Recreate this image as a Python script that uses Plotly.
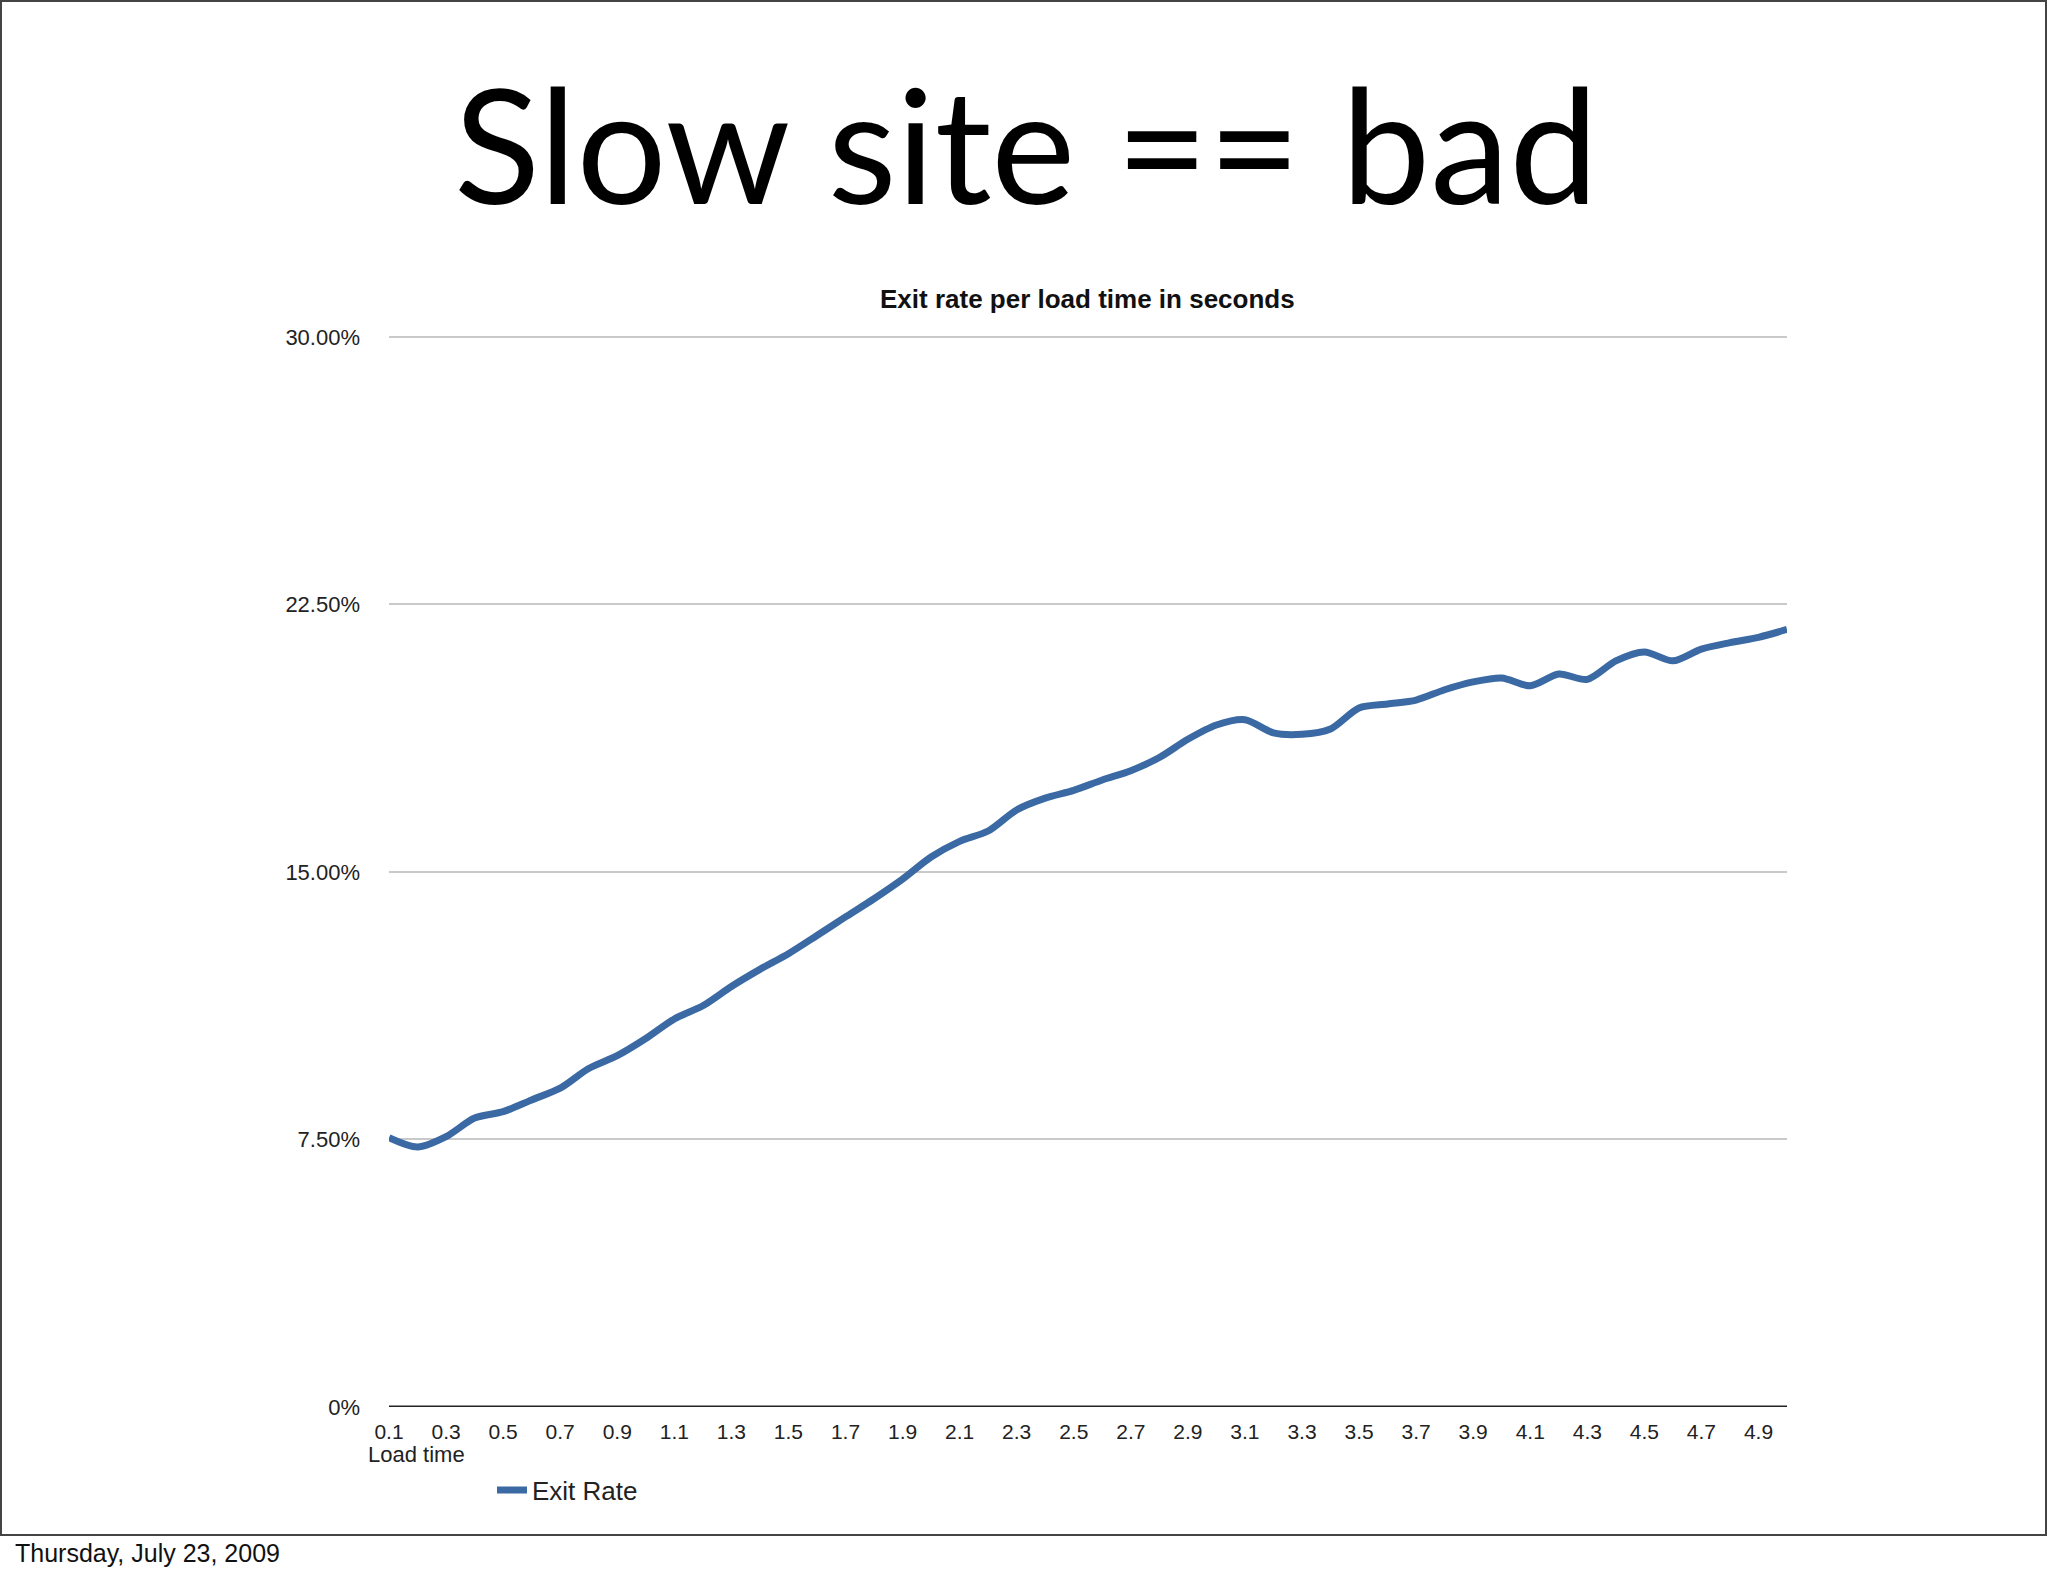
import plotly.graph_objects as go

load_times = [round(0.1 * i, 1) for i in range(1, 51)]
exit_rate = [7.55, 7.29, 7.58, 8.10, 8.28, 8.61, 8.94, 9.49, 9.85, 10.33,
             10.88, 11.25, 11.79, 12.27, 12.71, 13.22, 13.74, 14.25, 14.80, 15.42,
             15.86, 16.15, 16.74, 17.07, 17.29, 17.58, 17.84, 18.21, 18.72, 19.12,
             19.27, 18.90, 18.86, 19.01, 19.60, 19.71, 19.82, 20.11, 20.33, 20.44,
             20.22, 20.55, 20.40, 20.92, 21.17, 20.92, 21.25, 21.43, 21.58, 21.80]
x_tick_vals = [round(0.1 + 0.2 * i, 1) for i in range(25)]
x_tick_text = ["%.1f" % v for v in x_tick_vals]
y_tick_vals = [0, 7.5, 15, 22.5, 30]
y_tick_text = ["0%", "7.50%", "15.00%", "22.50%", "30.00%"]

W, H = 2048, 1576

def px(x):
    return x / W

def py(y):
    return (H - y) / H

Y_TOP = 30.2
y_zero_px, y_30_px = 1407, 337
y_top_px = y_zero_px - (y_zero_px - y_30_px) * Y_TOP / 30

fig = go.Figure()
fig.add_trace(go.Scatter(
    x=load_times, y=exit_rate, mode="lines", name="Exit Rate",
    line=dict(color="#3a69a3", width=7, shape="spline", smoothing=0.8),
))

fig.update_layout(
    width=W, height=H,
    margin=dict(l=0, r=0, t=0, b=0, pad=0, autoexpand=False),
    paper_bgcolor="white",
    plot_bgcolor="rgba(0,0,0,0)",
    showlegend=True,
    legend=dict(
        x=px(492), y=py(1490), xanchor="left", yanchor="middle",
        orientation="h", bgcolor="rgba(0,0,0,0)",
        font=dict(family="Liberation Sans, Arial", size=26, color="#222"),
        itemwidth=30,
    ),
    xaxis=dict(
        domain=[px(389), px(1787)],
        range=[0.1, 5.0],
        automargin=False,
        tickmode="array", tickvals=x_tick_vals, ticktext=x_tick_text,
        showgrid=False, zeroline=False, showline=False, ticks="",
        ticklabelstandoff=10,
        tickfont=dict(family="Liberation Sans, Arial", size=21, color="#222"),
    ),
    yaxis=dict(
        domain=[py(y_zero_px), py(y_top_px)],
        range=[0, Y_TOP],
        automargin=False,
        tickmode="array", tickvals=y_tick_vals, ticktext=y_tick_text,
        showgrid=True, gridcolor="#c9c9c9", gridwidth=2,
        zeroline=False, showline=False, ticks="",
        ticklabelstandoff=28,
        tickfont=dict(family="Liberation Sans, Arial", size=22, color="#222"),
    ),
    shapes=[
        dict(type="rect", xref="paper", yref="paper",
             x0=px(1), x1=px(2046), y0=py(1535), y1=py(1),
             line=dict(color="#444", width=2), fillcolor="rgba(0,0,0,0)", layer="below"),
        dict(type="line", xref="x", yref="y", x0=0.1, x1=5.0, y0=0, y1=0,
             line=dict(color="#222", width=3)),
    ],
    annotations=[
        dict(text="Slow site == bad", xref="paper", yref="paper",
             x=px(1026), y=py(142), xanchor="center", yanchor="middle",
             showarrow=False, font=dict(family="Lato, Open Sans", size=159, color="black")),
        dict(text="<b>Exit rate per load time in seconds</b>", xref="paper", yref="paper",
             x=px(1087), y=py(299), xanchor="center", yanchor="middle",
             showarrow=False, font=dict(family="Liberation Sans, Arial", size=26, color="#111")),
        dict(text="Load time", xref="paper", yref="paper",
             x=px(366), y=py(1454), xanchor="left", yanchor="middle",
             showarrow=False, font=dict(family="Liberation Sans, Arial", size=22, color="#222")),
        dict(text="Thursday, July 23, 2009", xref="paper", yref="paper",
             x=px(13), y=py(1553), xanchor="left", yanchor="middle",
             showarrow=False, font=dict(family="Liberation Sans, Arial", size=25, color="#111")),
    ],
)

css = ("document.documentElement.style.margin='0';document.body.style.margin='0';"
       "document.documentElement.style.overflow='hidden';")

fig.write_html("out.html", post_script=css, config={"displayModeBar": False})
